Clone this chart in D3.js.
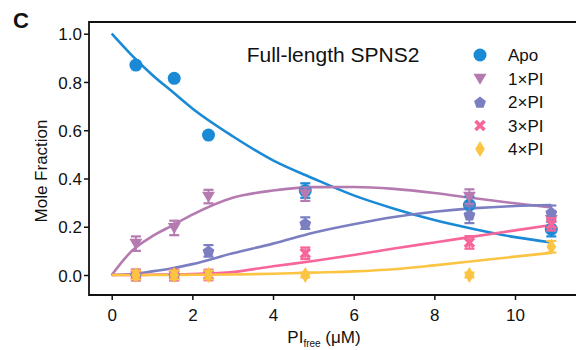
<!DOCTYPE html>
<html>
<head>
<meta charset="utf-8">
<script src="https://cdn.jsdelivr.net/npm/d3@7"></script>
<style>
  body { margin: 0; background: #fff; }
  svg text { font-family: "Liberation Sans", Arial, Helvetica, sans-serif; fill: #111; }
</style>
</head>
<body>
<div id="chart"></div>
<script>
// measured points
const concentrations = [0.6, 1.55, 2.4, 4.8, 8.87, 10.9];
const apoValues = [0.87, 0.815, 0.58, 0.35, 0.29, 0.19];
const onePIValues = [0.13, 0.195, 0.325, 0.335, 0.325, 0.228];
const twoPIValues = [0.0, 0.0, 0.10, 0.215, 0.25, 0.26];
const threePIValues = [0.0, 0.0, 0.0, 0.09, 0.135, 0.21];
const fourPIValues = [0.0, 0.0, 0.0, 0.0, 0.0, 0.117];
const apoErr = [0.012, 0.012, 0.012, 0.03, 0.035, 0.03];
const onePIErr = [0.03, 0.03, 0.028, 0.028, 0.03, 0.03];
const twoPIErr = [0.022, 0.022, 0.024, 0.024, 0.035, 0.028];
const threePIErr = [0.022, 0.022, 0.022, 0.024, 0.026, 0.026];
const fourPIErr = [0.018, 0.018, 0.018, 0.01, 0.01, 0.024];

// fitted curves
const fitX = [0, 0.5, 1, 1.5, 2, 3, 4, 5, 6, 7, 8, 9, 10, 10.9];
const apoFit = [1.0, 0.91, 0.83, 0.76, 0.69, 0.575, 0.475, 0.40, 0.33, 0.275, 0.228, 0.19, 0.157, 0.135];
const onePIFit = [0, 0.10, 0.16, 0.205, 0.25, 0.32, 0.35, 0.364, 0.365, 0.357, 0.34, 0.318, 0.297, 0.28];
const twoPIFit = [0, 0.004, 0.015, 0.028, 0.045, 0.09, 0.13, 0.175, 0.21, 0.24, 0.262, 0.277, 0.286, 0.29];
const threePIFit = [0, 0, 0.001, 0.002, 0.004, 0.012, 0.036, 0.058, 0.083, 0.11, 0.135, 0.16, 0.185, 0.207];
const fourPIFit = [0, 0, 0, 0, 0.001, 0.002, 0.005, 0.01, 0.015, 0.024, 0.04, 0.058, 0.076, 0.092];

const seriesNames = ["Apo", "1×PI", "2×PI", "3×PI", "4×PI"];
const seriesColors = ["#1a8ad6", "#b57ab0", "#7b7fc2", "#f7669a", "#fbc443"];
const seriesShapes = ["circle", "triangle", "pentagon", "cross", "diamond"];
const xTicks = [0, 2, 4, 6, 8, 10];
const yTicks = [0, 0.2, 0.4, 0.6, 0.8, 1.0];

const pointSets = [apoValues, onePIValues, twoPIValues, threePIValues, fourPIValues];
const errSets = [apoErr, onePIErr, twoPIErr, threePIErr, fourPIErr];
const fitSets = [apoFit, onePIFit, twoPIFit, threePIFit, fourPIFit];

const width = 576, height = 350;
const frame = {left: 89, top: 22, right: 576, bottom: 295};

const svg = d3.select("#chart").append("svg")
  .attr("width", width)
  .attr("height", height);

const x = d3.scaleLinear().domain([0, 10]).range([111.7, 515]);
const y = d3.scaleLinear().domain([0, 1]).range([275, 33.7]);

// frame lines
svg.append("line")
  .attr("x1", frame.left).attr("x2", frame.right)
  .attr("y1", frame.top).attr("y2", frame.top)
  .attr("stroke", "#111").attr("stroke-width", 1.8);

const yAxis = svg.append("g")
  .attr("transform", `translate(${frame.left},0)`)
  .call(d3.axisLeft(y).tickValues(yTicks).tickFormat(d3.format(".1f")).tickSize(5).tickSizeOuter(0));
yAxis.select(".domain").remove();
yAxis.append("line")
  .attr("x1", 0).attr("x2", 0)
  .attr("y1", frame.top - 0.9).attr("y2", frame.bottom + 0.9)
  .attr("stroke", "#111").attr("stroke-width", 1.8);

const xAxis = svg.append("g")
  .attr("transform", `translate(0,${frame.bottom})`)
  .call(d3.axisBottom(x).tickValues(xTicks).tickSize(5).tickSizeOuter(0));
xAxis.select(".domain").remove();
xAxis.append("line")
  .attr("x1", frame.left).attr("x2", frame.right)
  .attr("y1", 0).attr("y2", 0)
  .attr("stroke", "#111").attr("stroke-width", 1.8);

svg.selectAll(".tick line").attr("stroke", "#111").attr("stroke-width", 1.5);
yAxis.selectAll(".tick text").attr("x", -7).attr("dy", "0.36em")
  .style("font-size", "17px").style("font-family", "Liberation Sans, Arial, sans-serif");
xAxis.selectAll(".tick text").attr("y", 14).attr("dy", "0.71em")
  .style("font-size", "17px").style("font-family", "Liberation Sans, Arial, sans-serif");

// fitted curves
const line = d3.line()
  .x((d, i) => x(fitX[i]))
  .y(d => y(d))
  .curve(d3.curveMonotoneX);

fitSets.forEach((fit, s) => {
  svg.append("path")
    .attr("d", line(fit))
    .attr("fill", "none")
    .attr("stroke", seriesColors[s])
    .attr("stroke-width", 2.6);
});

function shapePath(shape, size) {
  const r = size;
  if (shape === "triangle") {
    return `M${-r},${-r * 0.75}L${r},${-r * 0.75}L0,${r * 0.95}Z`;
  }
  if (shape === "pentagon") {
    const pts = d3.range(5).map(k => {
      const a = -Math.PI / 2 + k * 2 * Math.PI / 5;
      return [Math.cos(a) * r, Math.sin(a) * r + 0.8];
    });
    return "M" + pts.map(p => p.join(",")).join("L") + "Z";
  }
  if (shape === "diamond") {
    return `M0,${-r * 1.3}L${r * 0.78},0L0,${r * 1.3}L${-r * 0.78},0Z`;
  }
  return null;
}

function drawMarker(g, shape, color, cx, cy, size) {
  if (shape === "circle") {
    g.append("circle").attr("cx", cx).attr("cy", cy).attr("r", size).attr("fill", color);
  } else if (shape === "cross") {
    const r = size * 0.8;
    g.append("path")
      .attr("d", `M${cx - r},${cy - r}L${cx + r},${cy + r}M${cx - r},${cy + r}L${cx + r},${cy - r}`)
      .attr("stroke", color).attr("stroke-width", 3.6).attr("fill", "none");
  } else {
    g.append("path")
      .attr("d", shapePath(shape, size))
      .attr("transform", `translate(${cx},${cy})`)
      .attr("fill", color);
  }
}

const markerSizes = [6.5, 6.5, 6.2, 5.6, 6.2];

// data points with error bars
pointSets.forEach((vals, s) => {
  const g = svg.append("g");
  vals.forEach((v, i) => {
    const cx = x(concentrations[i]);
    const e = errSets[s][i];
    g.append("line")
      .attr("x1", cx).attr("x2", cx)
      .attr("y1", y(v - e)).attr("y2", y(v + e))
      .attr("stroke", seriesColors[s]).attr("stroke-width", 1.8);
    [v - e, v + e].forEach(b => {
      g.append("line")
        .attr("x1", cx - 5).attr("x2", cx + 5)
        .attr("y1", y(b)).attr("y2", y(b))
        .attr("stroke", seriesColors[s]).attr("stroke-width", 2.2);
    });
    drawMarker(g, seriesShapes[s], seriesColors[s], cx, y(v), markerSizes[s]);
  });
});

// title
svg.append("text")
  .attr("x", 333).attr("y", 62)
  .attr("text-anchor", "middle")
  .style("font-size", "21px")
  .text("Full-length SPNS2");

// panel letter
svg.append("text")
  .attr("x", 13).attr("y", 28)
  .style("font-size", "22px")
  .style("font-weight", "bold")
  .text("C");

// legend
const legend = svg.append("g");
seriesNames.forEach((name, s) => {
  const ly = 55 + s * 23.5;
  drawMarker(legend, seriesShapes[s], seriesColors[s], 480, ly, markerSizes[s]);
  legend.append("text")
    .attr("x", 508).attr("y", ly)
    .attr("dy", "0.36em")
    .style("font-size", "17px")
    .text(name);
});

// axis titles
svg.append("text")
  .attr("transform", "translate(47,171) rotate(-90)")
  .attr("text-anchor", "middle")
  .style("font-size", "17px")
  .text("Mole Fraction");

const xLabel = svg.append("text")
  .attr("x", 324).attr("y", 343)
  .attr("text-anchor", "middle")
  .style("font-size", "17px");
xLabel.append("tspan").text("PI");
xLabel.append("tspan").attr("dy", 4).style("font-size", "10px").text("free");
xLabel.append("tspan").attr("dy", -4).text(" (μM)");
</script>
</body>
</html>
